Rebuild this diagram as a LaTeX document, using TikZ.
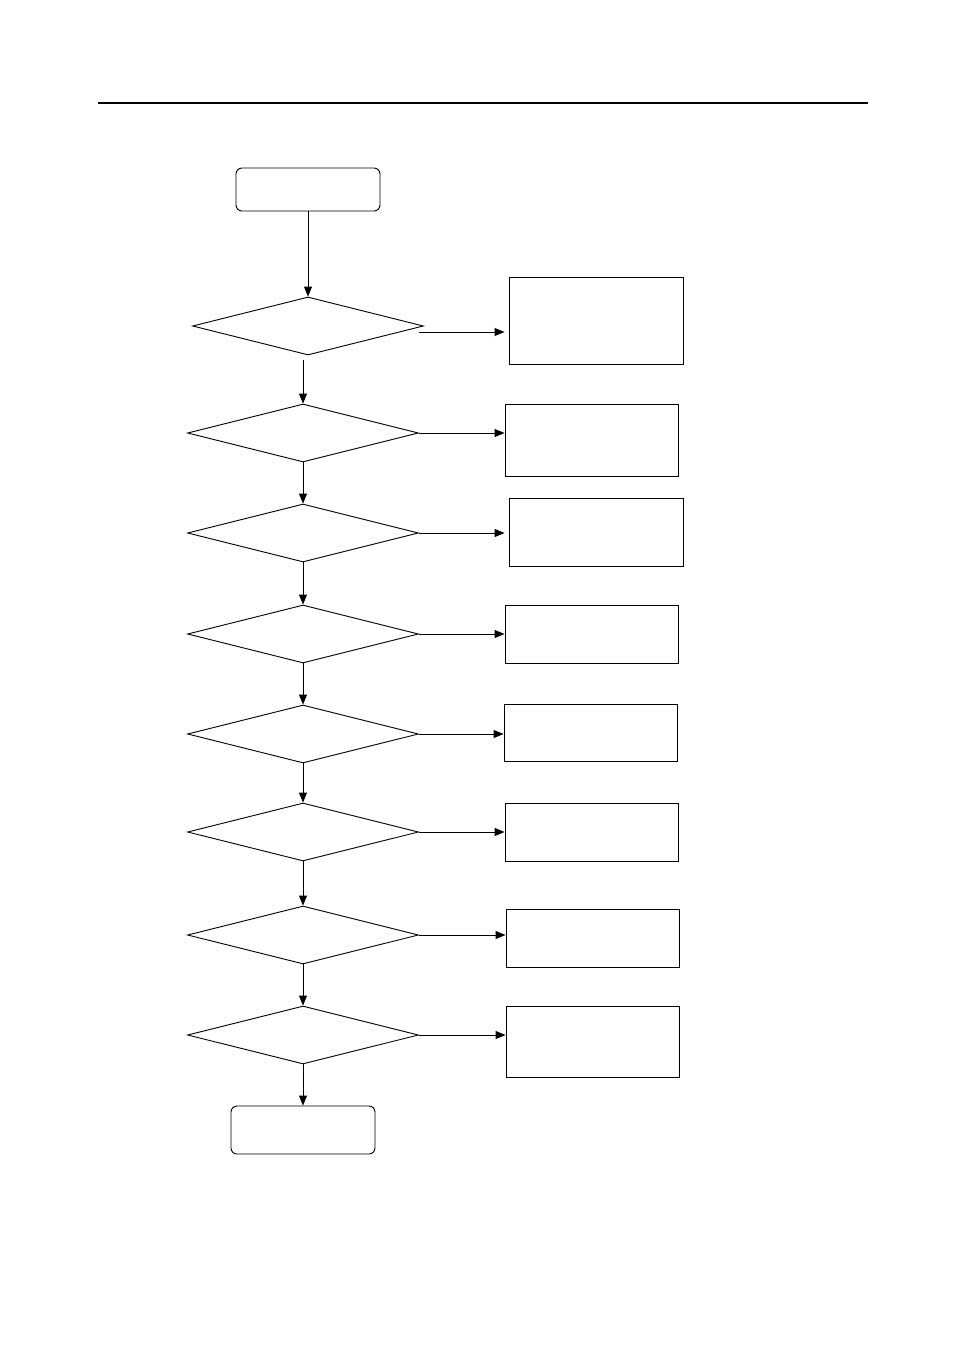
\documentclass[tikz,border=0pt]{standalone}
\usetikzlibrary{shapes.geometric,arrows.meta}
\begin{document}
\begin{tikzpicture}[x=1pt,y=-1pt,
  line width=0.9pt,
  term/.style={draw,rounded corners=6pt,minimum width=144pt,minimum height=43pt,inner sep=0pt},
  decision/.style={draw,diamond,minimum width=231pt,minimum height=58pt,inner sep=0pt},
  action/.style={draw,rectangle,minimum width=173pt,inner sep=0pt},
  flow/.style={-{Triangle[length=10pt,width=8pt]}}]
\useasboundingbox (0,0) rectangle (954,1350);
\draw[line width=2pt] (98,103) -- (868,103);

\node[term] (start) at (308,189.5) {};
\node[decision] (d1) at (308,326) {};
\node[decision] (d2) at (303,433) {};
\node[decision] (d3) at (303,533) {};
\node[decision] (d4) at (303,634) {};
\node[decision] (d5) at (303,734) {};
\node[decision] (d6) at (303,832) {};
\node[decision] (d7) at (303,935) {};
\node[decision] (d8) at (303,1035) {};
\node[term,minimum height=48pt] (end) at (303,1130) {};

\node[action,minimum width=174pt,minimum height=87pt] (b1) at (596,320.5) {};
\node[action,minimum height=72pt] (b2) at (591.5,440) {};
\node[action,minimum width=174pt,minimum height=68pt] (b3) at (596,532) {};
\node[action,minimum height=58pt] (b4) at (591.5,634) {};
\node[action,minimum height=57pt] (b5) at (590.5,732.5) {};
\node[action,minimum height=58pt] (b6) at (591.5,832) {};
\node[action,minimum height=58pt] (b7) at (592.5,938) {};
\node[action,minimum height=71pt] (b8) at (592.5,1041.5) {};

\draw[flow] (start.south) -- (d1.north);
\draw[flow] ([xshift=-5pt,yshift=-5pt]d1.south) -- (d2.north);
\draw[flow] (d2.south) -- (d3.north);
\draw[flow] (d3.south) -- (d4.north);
\draw[flow] (d4.south) -- (d5.north);
\draw[flow] (d5.south) -- (d6.north);
\draw[flow] (d6.south) -- (d7.north);
\draw[flow] (d7.south) -- (d8.north);
\draw[flow] (d8.south) -- (end.north);

\draw[flow] ([xshift=-5pt,yshift=-6pt]d1.east) -- ([xshift=-4pt,yshift=-11.5pt]b1.west);
\draw[flow] (d2.east) -- (d2.east -| b2.west);
\draw[flow] (d3.east) -- ([xshift=-4pt]d3.east -| b3.west);
\draw[flow] (d4.east) -- (d4.east -| b4.west);
\draw[flow] (d5.east) -- (d5.east -| b5.west);
\draw[flow] (d6.east) -- (d6.east -| b6.west);
\draw[flow] (d7.east) -- (d7.east -| b7.west);
\draw[flow] (d8.east) -- (d8.east -| b8.west);
\end{tikzpicture}
\end{document}
